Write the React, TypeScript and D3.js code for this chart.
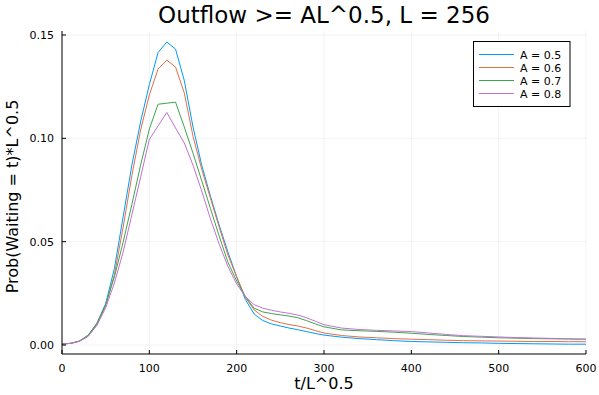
import React from "react";
import * as d3 from "d3";

const tValues = [0, 10, 20, 30, 40, 50, 60, 70, 80, 90, 100, 110, 120, 130, 140, 150, 160, 170, 180, 190, 200, 210, 220, 230, 240, 250, 260, 270, 280, 290, 300, 320, 340, 360, 380, 400, 420, 440, 460, 480, 500, 520, 540, 560, 580, 600];

const seriesA05 = [0.0005, 0.0008, 0.0018, 0.0045, 0.0105, 0.020, 0.037, 0.062, 0.087, 0.108, 0.126, 0.1415, 0.1466, 0.1432, 0.128, 0.1055, 0.087, 0.072, 0.058, 0.045, 0.033, 0.022, 0.015, 0.0118, 0.0102, 0.0092, 0.0082, 0.0074, 0.0065, 0.0056, 0.0048, 0.0038, 0.0031, 0.0026, 0.0021, 0.0017, 0.0015, 0.0013, 0.0011, 0.001, 0.0008, 0.0007, 0.0006, 0.0005, 0.0004, 0.0004];
const seriesA06 = [0.0005, 0.0008, 0.0018, 0.0043, 0.0098, 0.019, 0.034, 0.057, 0.082, 0.104, 0.121, 0.1335, 0.1378, 0.1345, 0.122, 0.101, 0.085, 0.071, 0.057, 0.0435, 0.033, 0.023, 0.017, 0.0138, 0.012, 0.0108, 0.0099, 0.0092, 0.0082, 0.007, 0.0058, 0.0046, 0.0039, 0.0035, 0.0031, 0.0028, 0.0026, 0.0023, 0.0021, 0.002, 0.0019, 0.0018, 0.0017, 0.0017, 0.0016, 0.0016];
const seriesA07 = [0.0005, 0.0008, 0.002, 0.0048, 0.0105, 0.0195, 0.033, 0.0497, 0.068, 0.087, 0.1045, 0.1165, 0.117, 0.1175, 0.1055, 0.0928, 0.0795, 0.066, 0.0527, 0.040, 0.031, 0.0235, 0.0178, 0.016, 0.0152, 0.0146, 0.014, 0.0132, 0.0118, 0.0102, 0.0088, 0.0073, 0.0069, 0.0066, 0.0062, 0.0057, 0.0051, 0.0046, 0.0041, 0.0038, 0.0035, 0.0033, 0.0031, 0.003, 0.0029, 0.0028];
const seriesA08 = [0.0005, 0.0008, 0.0018, 0.0042, 0.0095, 0.018, 0.030, 0.045, 0.063, 0.0812, 0.0995, 0.106, 0.1125, 0.105, 0.0978, 0.087, 0.0745, 0.061, 0.0488, 0.038, 0.0295, 0.0235, 0.0195, 0.0178, 0.0168, 0.016, 0.0153, 0.0145, 0.0132, 0.0115, 0.0098, 0.0082, 0.0075, 0.0071, 0.0068, 0.0065, 0.0058, 0.0051, 0.0045, 0.0042, 0.0039, 0.0036, 0.0034, 0.0032, 0.003, 0.0028];

const seriesNames = ["A = 0.5", "A = 0.6", "A = 0.7", "A = 0.8"];
const seriesColors = ["#009AFA", "#E36F47", "#3EA44E", "#C371D2"];
const xTicks = [0, 100, 200, 300, 400, 500, 600];
const yTicks = [0, 0.05, 0.1, 0.15];

const FONT = "DejaVu Sans, sans-serif";

export default function App() {
  const W = 599, H = 395;
  const left = 62, right = 586, top = 31, bottom = 354;
  const x = d3.scaleLinear().domain([0, 600]).range([left, right]);
  const y = d3.scaleLinear().domain([0, 0.15]).range([345, 35]);
  const allSeries = [seriesA05, seriesA06, seriesA07, seriesA08];
  const line = d3.line<number>().x((_, i) => x(tValues[i])).y((d) => y(d));

  return (
    <svg width={W} height={H} style={{ position: "absolute", left: 0, top: 0, background: "#fff" }} fontFamily={FONT}>
      <rect x={0} y={0} width={W} height={H} fill="#fff" />
      {xTicks.map((t) => (
        <line key={"gx" + t} x1={x(t)} x2={x(t)} y1={top} y2={bottom} stroke="#000" strokeOpacity={0.1} strokeWidth={0.5} />
      ))}
      {yTicks.map((t) => (
        <line key={"gy" + t} x1={left} x2={right} y1={y(t)} y2={y(t)} stroke="#000" strokeOpacity={0.1} strokeWidth={0.5} />
      ))}
      {allSeries.map((s, i) => (
        <path key={"s" + i} d={line(s) || ""} fill="none" stroke={seriesColors[i]} strokeWidth={1} strokeLinejoin="round" />
      ))}
      <line x1={left} x2={left} y1={top} y2={bottom} stroke="#000" strokeWidth={1} />
      <line x1={left} x2={right} y1={bottom} y2={bottom} stroke="#000" strokeWidth={1} />
      {xTicks.map((t) => (
        <g key={"xt" + t}>
          <line x1={x(t)} x2={x(t)} y1={bottom} y2={bottom - 4} stroke="#000" strokeWidth={1} />
          <text x={x(t)} y={372} textAnchor="middle" fontSize={11}>{t}</text>
        </g>
      ))}
      {yTicks.map((t) => (
        <g key={"yt" + t}>
          <line x1={left} x2={left + 4} y1={y(t)} y2={y(t)} stroke="#000" strokeWidth={1} />
          <text x={54} y={y(t) + 4} textAnchor="end" fontSize={11}>{t.toFixed(2)}</text>
        </g>
      ))}
      <text x={(left + right) / 2} y={23} textAnchor="middle" fontSize={23}>Outflow &gt;= AL^0.5, L = 256</text>
      <text x={(left + right) / 2} y={389} textAnchor="middle" fontSize={16}>t/L^0.5</text>
      <text transform={`translate(18, ${(top + bottom) / 2 + 4}) rotate(-90)`} textAnchor="middle" fontSize={16}>Prob(Waiting = t)*L^0.5</text>
      <rect x={473.5} y={41.5} width={96.5} height={65} fill="#fff" stroke="#000" strokeWidth={1} />
      {seriesNames.map((n, i) => (
        <g key={"lg" + i}>
          <line x1={479} x2={514} y1={54.5 + i * 13} y2={54.5 + i * 13} stroke={seriesColors[i]} strokeWidth={1} />
          <text x={520} y={58.5 + i * 13} fontSize={11}>{n}</text>
        </g>
      ))}
    </svg>
  );
}
